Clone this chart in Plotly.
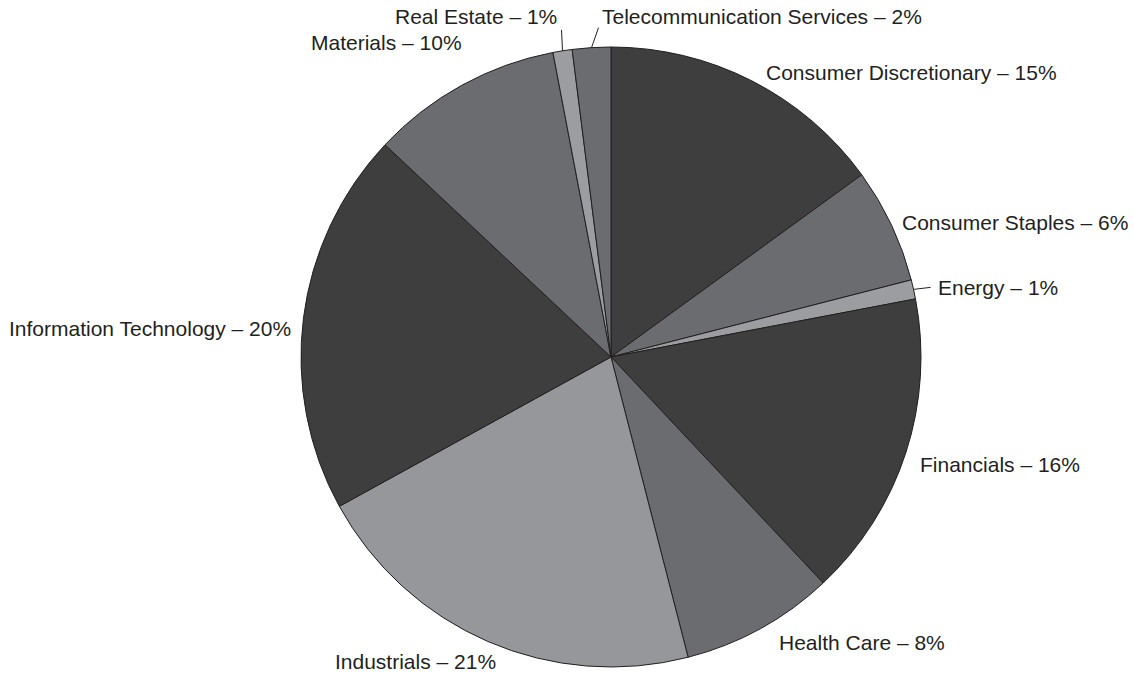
import math
import plotly.graph_objects as go

# Sector weights, clockwise from 12 o'clock
sectors = ["Consumer Discretionary", "Consumer Staples", "Energy", "Financials",
           "Health Care", "Industrials", "Information Technology", "Materials",
           "Real Estate", "Telecommunication Services"]
weights = [15, 6, 1, 16, 8, 21, 20, 10, 1, 2]

DARK, MID, LIGHT, PALE = "#3e3e3e", "#6b6c70", "#96979b", "#9c9da1"
colors = [DARK, MID, PALE, DARK, MID, LIGHT, DARK, MID, PALE, MID]

W, H = 1134, 674
CX, CY, R = 611, 357, 310  # pie centre and radius in pixels

# label placement: pixel offset from the rim point at the slice middle,
# text anchor, and optional leader-line end (offset from rim point)
label_style = [
    ((12, -8), "left", None),
    ((9, -3), "left", None),
    ((22, -2), "left", (17, -2)),
    ((12, 12), "left", None),
    ((17, 14), "left", None),
    ((10, 20), "right", None),
    ((-10, 10), "right", None),
    ((2, -43), "right", None),
    ((-4, -34), "right", (-1, -21)),
    ((8, -31), "left", (7, -20)),
]

fig = go.Figure(go.Pie(
    labels=sectors, values=weights, sort=False, direction="clockwise", rotation=0,
    marker=dict(colors=colors, line=dict(color="#231f20", width=1)),
    textinfo="none", hoverinfo="label+percent", showlegend=False,
    domain=dict(x=[(CX - R) / W, (CX + R) / W], y=[1 - (CY + R) / H, 1 - (CY - R) / H]),
))

def px(x, y):
    return x / W, 1 - y / H

total = sum(weights)
cum = 0
annotations, shapes = [], []
for name, w, (off, anchor, leader) in zip(sectors, weights, label_style):
    mid = (cum + w / 2) / total * 2 * math.pi
    cum += w
    ex, ey = CX + R * math.sin(mid), CY - R * math.cos(mid)
    tx, ty = px(ex + off[0], ey + off[1])
    annotations.append(dict(
        x=tx, y=ty, xref="paper", yref="paper", xanchor=anchor, yanchor="middle",
        text=f"{name} – {round(w / total * 100)}%", showarrow=False,
        font=dict(family="Liberation Sans, Arial, sans-serif", size=21, color="#231f20"),
    ))
    if leader:
        x0, y0 = px(ex, ey)
        x1, y1 = px(ex + leader[0], ey + leader[1])
        shapes.append(dict(type="line", xref="paper", yref="paper", x0=x0, y0=y0,
                           x1=x1, y1=y1, line=dict(color="#231f20", width=1)))

fig.update_layout(
    width=W, height=H, margin=dict(l=0, r=0, t=0, b=0),
    paper_bgcolor="white", plot_bgcolor="white",
    annotations=annotations, shapes=shapes,
)

fig.write_html("out.html")
